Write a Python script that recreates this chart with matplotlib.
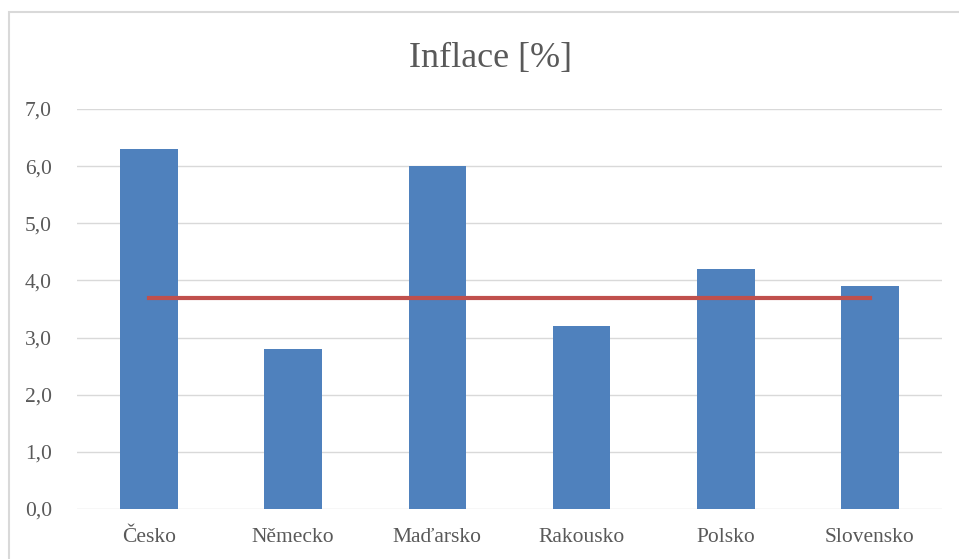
import matplotlib.pyplot as plt
from matplotlib.patches import Rectangle

countries = ['Česko', 'Německo', 'Maďarsko', 'Rakousko', 'Polsko', 'Slovensko']
inflation = [6.3, 2.8, 6.0, 3.2, 4.2, 3.9]
average = [3.7, 3.7, 3.7, 3.7, 3.7, 3.7]
yticks = [0, 1, 2, 3, 4, 5, 6, 7]

plt.rcParams['font.family'] = ['Liberation Serif', 'DejaVu Serif']

fig = plt.figure(figsize=(9.59, 5.59), dpi=100)
fig.patches.append(Rectangle((9 / 959, -0.1), 1.2, 1 - 12 / 559 + 0.1,
                             transform=fig.transFigure, fill=False,
                             edgecolor='#d9d9d9', linewidth=1.5))

ax = fig.add_axes([77 / 959, 1 - 509 / 559, 865 / 959, 400 / 559])
x = list(range(len(countries)))
ax.bar(x, inflation, width=0.4, color='#4f81bd', zorder=2)
ax.plot(x, average, color='#c0504d', linewidth=3, zorder=3)

ax.set_xlim(-0.5, len(countries) - 0.5)
ax.set_ylim(0, 7)
ax.set_yticks(yticks)
ax.set_yticklabels([f'{v:.1f}'.replace('.', ',') for v in yticks])
ax.set_xticks(x)
ax.set_xticklabels(countries)
ax.tick_params(length=0, labelsize=15.5, labelcolor='#595959')
ax.tick_params(axis='y', pad=18)
ax.tick_params(axis='x', pad=14)
ax.grid(axis='y', color='#d9d9d9', linewidth=1, zorder=0)
for s in ax.spines.values():
    s.set_visible(False)

fig.text(490 / 959, 1 - 59 / 559, 'Inflace [%]', ha='center', va='center',
         fontsize=26, color='#595959')

fig.savefig('out.png', dpi=100)
